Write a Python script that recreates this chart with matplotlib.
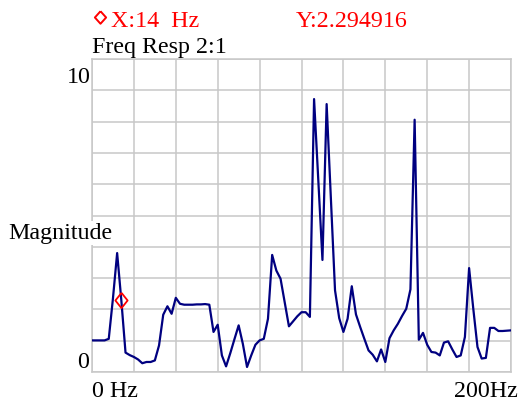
import numpy as np
import matplotlib
matplotlib.use('Agg')
import matplotlib.pyplot as plt
from matplotlib.lines import Line2D

plt.rcParams['font.family'] = ['Liberation Serif', 'DejaVu Serif']

# frequency bins (Hz), 2 Hz spacing
freq = np.arange(0, 201, 2)

# magnitude, in bin order
mag_0_48 = [1.01, 1.01, 1.01, 1.01, 1.06, 2.35, 3.80, 2.29, 0.62, 0.54,
            0.48, 0.40, 0.28, 0.32, 0.32, 0.37, 0.85, 1.83, 2.10, 1.86,
            2.37, 2.18, 2.15, 2.15, 2.15]
mag_50_98 = [2.16, 2.16, 2.17, 2.15, 1.28, 1.51, 0.53, 0.18, 0.60, 1.05,
             1.49, 0.90, 0.16, 0.53, 0.87, 1.01, 1.06, 1.70, 3.74, 3.24,
             2.98, 2.22, 1.46, 1.62, 1.78]
mag_100_148 = [1.91, 1.91, 1.76, 8.72, 6.15, 3.58, 8.56, 5.58, 2.61, 1.72,
               1.28, 1.70, 2.74, 1.84, 1.44, 1.06, 0.69, 0.55, 0.34, 0.72,
               0.32, 1.08, 1.33, 1.54, 1.79]
mag_150_200 = [2.02, 2.64, 8.06, 1.03, 1.25, 0.87, 0.64, 0.62, 0.53, 0.94,
               0.98, 0.72, 0.48, 0.53, 1.12, 3.32, 2.02, 0.80, 0.43, 0.45,
               1.41, 1.41, 1.31, 1.31, 1.32, 1.33]
mag = np.array(mag_0_48 + mag_50_98 + mag_100_148 + mag_150_200)

# cursor readout
cursor_x = 14
cursor_y = 2.294916

x_min, x_max = 0, 200
y_min, y_max = 0, 10

grid_col = '#c8c8c8'
line_col = '#000080'
fs = 17.3

fig = plt.figure(figsize=(5.22, 4.06), dpi=100)
ax = fig.add_axes([92/522, 1-373/406, 419/522, 313/406])

ax.plot(freq, mag, color=line_col, lw=1.6, zorder=3)
diamond = [(0, 1), (0.8, 0), (0, -1), (-0.8, 0), (0, 1)]
ax.plot([cursor_x], [cursor_y], marker=diamond, ms=11, mfc='none',
        mec='red', mew=1.3, ls='none', zorder=4)

ax.set_xlim(x_min, x_max)
ax.set_ylim(y_min, y_max)
ax.set_xticks(np.arange(x_min, x_max + 1, 20))
ax.set_yticks(np.arange(y_min, y_max + 1, 1))
ax.tick_params(length=0, labelbottom=False, labelleft=False)
ax.grid(True, color=grid_col, lw=1.1)
for s in ax.spines.values():
    s.set_color(grid_col)
    s.set_linewidth(1.1)

# texts around the plot, placed in figure pixels
def px(x, y):
    return x/522, 1 - y/406

# cursor symbol in front of the readout
hdr_diamond = [(0, 1), (0.9, 0), (0, -1), (-0.9, 0), (0, 1)]
fig.add_artist(Line2D([px(100, 17.5)[0]], [px(100, 17.5)[1]],
                      transform=fig.transFigure, marker=hdr_diamond, ms=9,
                      mfc='none', mec='red', mew=1.4, ls='none'))
fig.text(*px(111, 26.7), 'X:%d  Hz' % cursor_x, color='red',
         fontsize=fs, va='baseline', ha='left')
fig.text(*px(296, 26.7), 'Y:%.6f' % cursor_y, color='red',
         fontsize=fs, va='baseline', ha='left')
fig.text(*px(92, 53.3), 'Freq Resp 2:1', fontsize=fs, va='baseline')
fig.text(*px(91, 83), '%d' % y_max, fontsize=fs, va='baseline', ha='right')
fig.text(*px(89.5, 368), '%d' % y_min, fontsize=fs, va='baseline', ha='right')
fig.text(*px(8, 239.5), 'Magnitude', fontsize=fs, va='baseline',
         bbox=dict(facecolor='white', edgecolor='none', pad=1))
fig.text(*px(92.5, 397), '%d Hz' % x_min, fontsize=fs, va='baseline')
fig.text(*px(518, 397), '%dHz' % x_max, fontsize=fs, va='baseline', ha='right')

fig.savefig('out.png', dpi=100)
